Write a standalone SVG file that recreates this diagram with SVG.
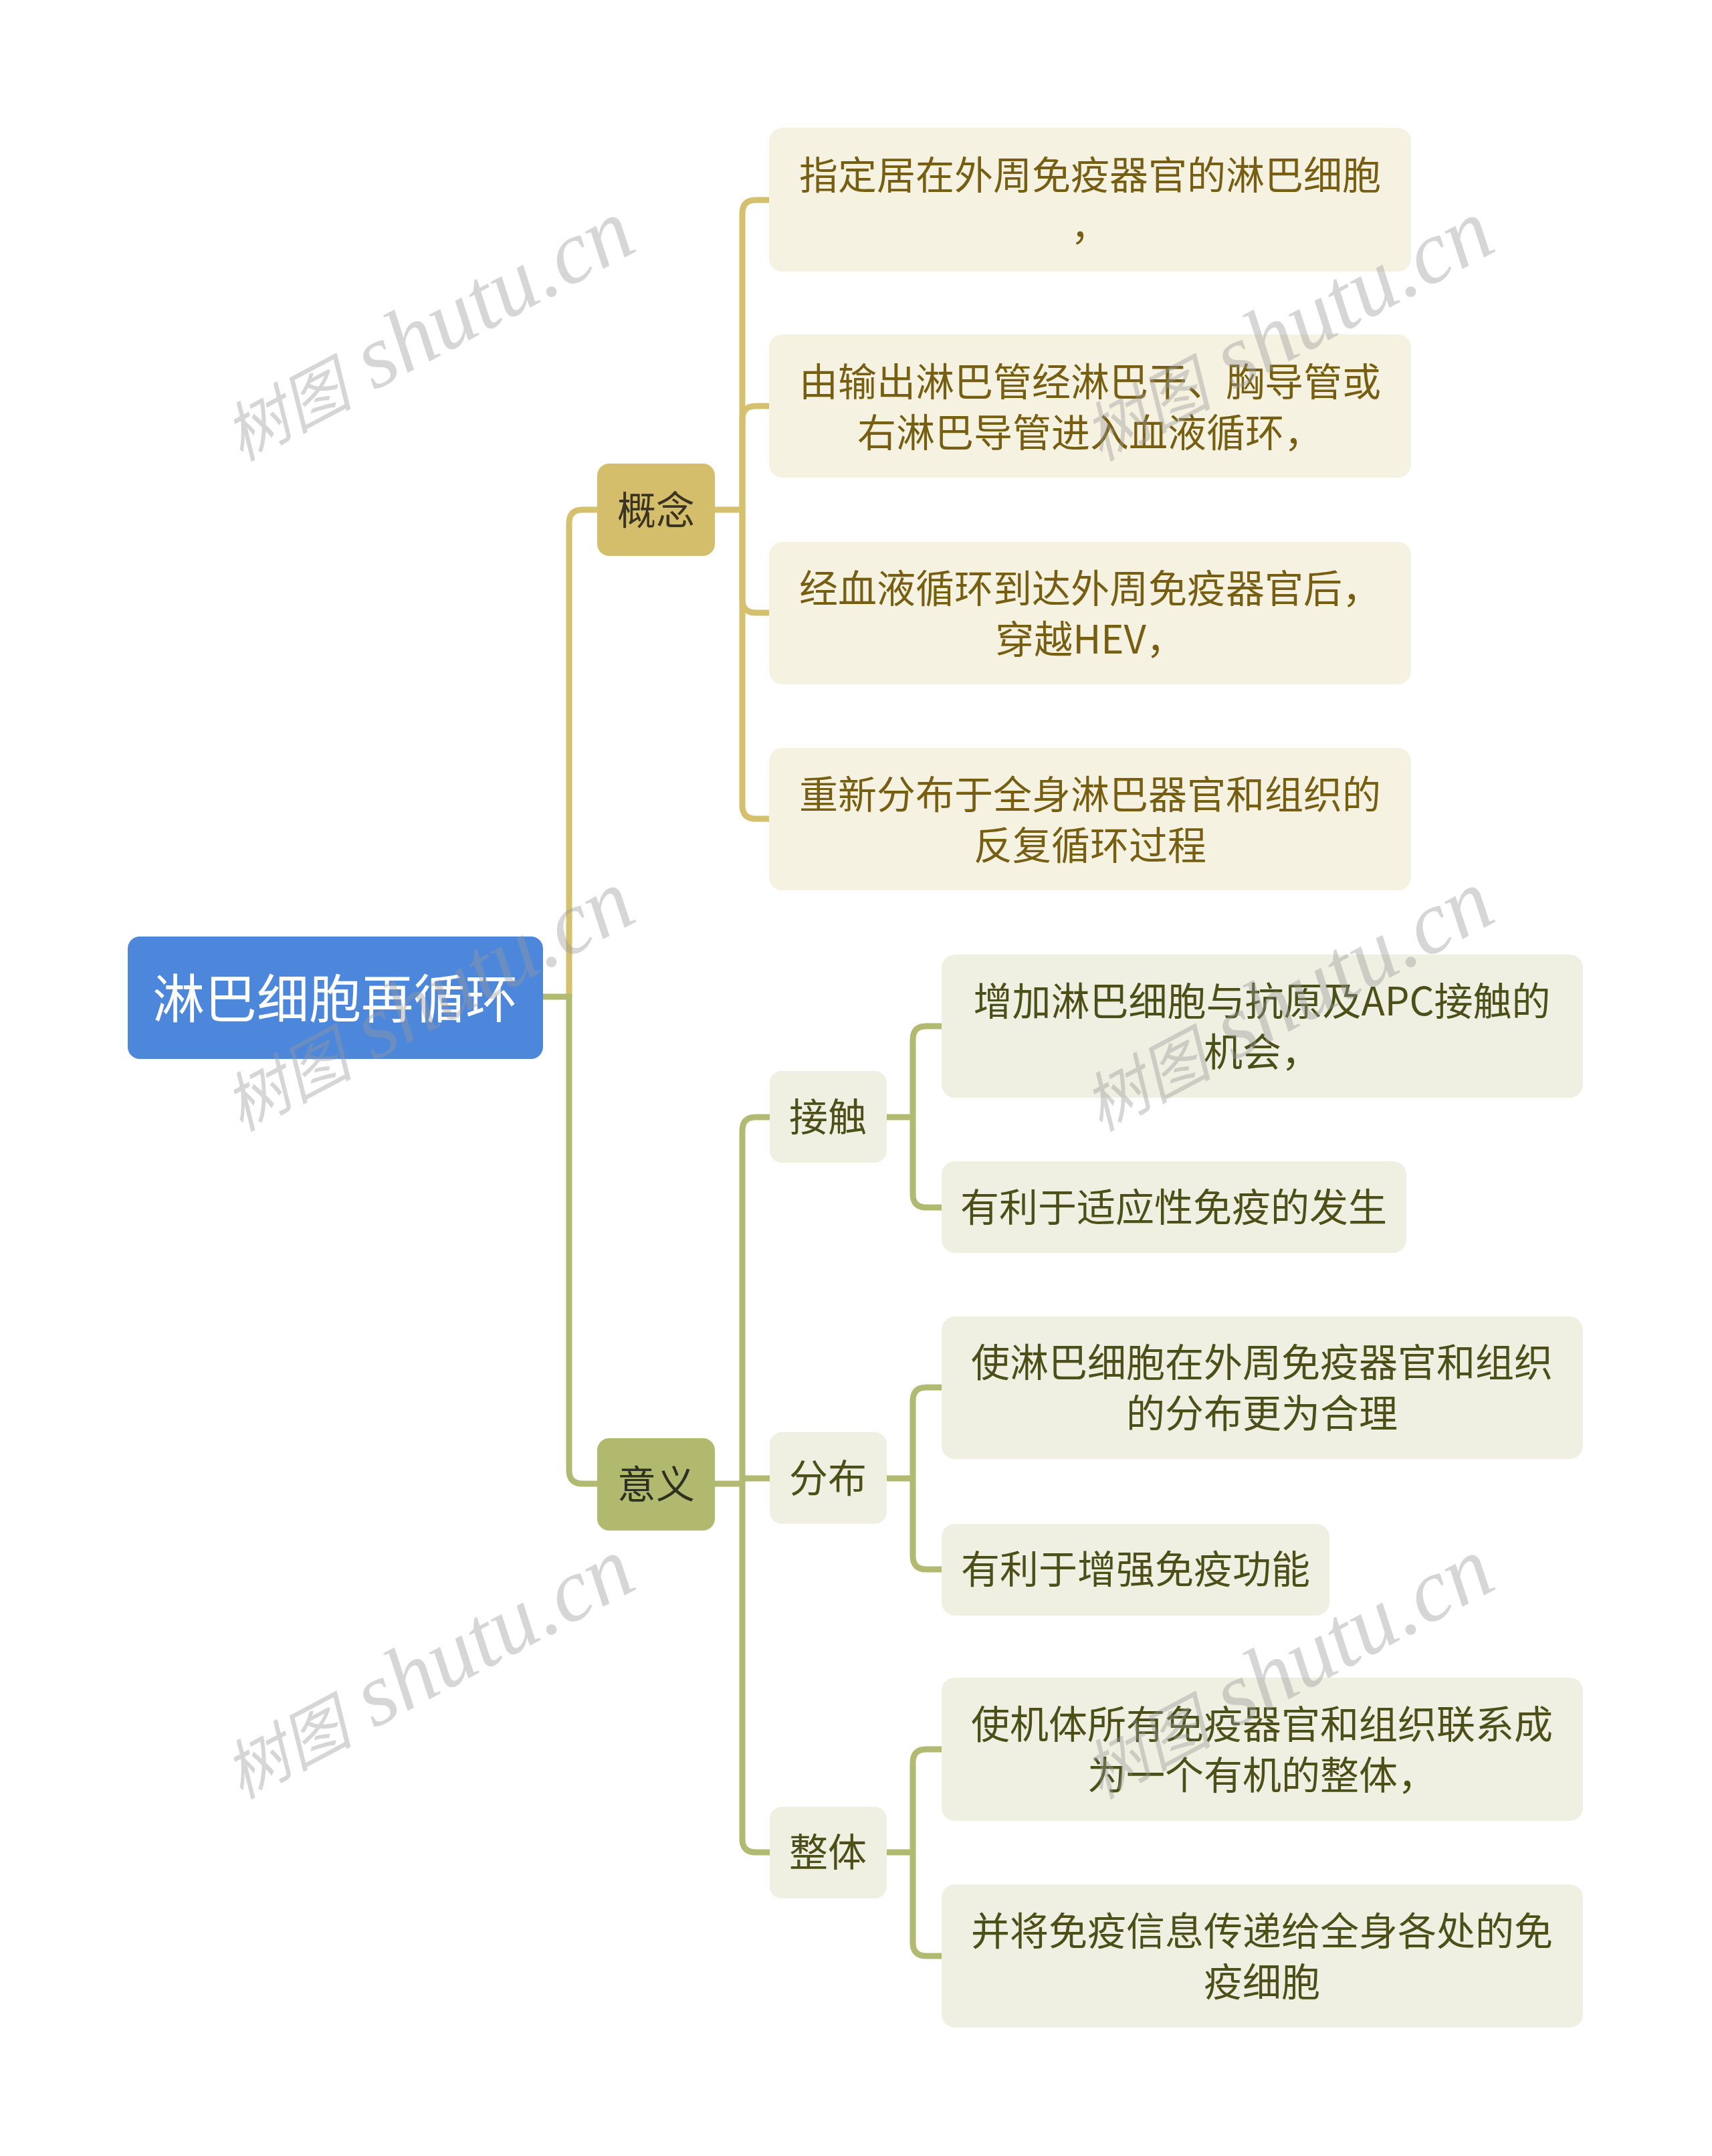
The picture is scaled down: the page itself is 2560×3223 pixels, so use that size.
<svg xmlns="http://www.w3.org/2000/svg" width="2560" height="3223" viewBox="0 0 2560 3223">
<style>
text{font-family:"Noto Sans CJK SC","Liberation Sans",sans-serif;text-anchor:middle;dominant-baseline:central}
.root{fill:#4C87DC}
.rootT{fill:#ffffff;font-size:78px}
.c1{fill:#D4BE6C}
.c1T{fill:#3A3420;font-size:58px}
.c2{fill:#B0B96E}
.c2T{fill:#2F3020;font-size:58px}
.g1{fill:#F5F2E1}
.g1T{fill:#765F12;font-size:58px}
.g2{fill:#EFEFE2}
.g2T{fill:#4C5018;font-size:58px}
.lg{fill:none;stroke:#D5C06E;stroke-width:9}
.lo{fill:none;stroke:#B2BA72;stroke-width:9}
.wm{font-family:"Liberation Serif","Noto Sans CJK SC",serif;font-style:italic;fill:#999999;fill-opacity:0.4;text-anchor:start;dominant-baseline:alphabetic}
</style>
<rect width="2560" height="3223" fill="#ffffff"/>
<g id="connectors">
<path class="lg" d="M851 1490 V782 Q851 762 871 762 H893"/>
<path class="lo" d="M812 1490 H851 V2198 Q851 2218 871 2218 H893"/>
<path class="lg" d="M1069 762 H1110"/>
<path class="lg" d="M1110 762 V319 Q1110 299 1130 299 H1150"/>
<path class="lg" d="M1110 762 V627 Q1110 607 1130 607 H1150"/>
<path class="lg" d="M1110 762 V896 Q1110 916 1130 916 H1150"/>
<path class="lg" d="M1110 762 V1204 Q1110 1224 1130 1224 H1150"/>
<path class="lo" d="M1069 2218 H1110"/>
<path class="lo" d="M1110 2218 V1690 Q1110 1670 1130 1670 H1151"/>
<path class="lo" d="M1110 2210 H1151"/>
<path class="lo" d="M1110 2218 V2749 Q1110 2769 1130 2769 H1151"/>
<path class="lo" d="M1326 1670 H1365"/>
<path class="lo" d="M1365 1670 V1554 Q1365 1534 1385 1534 H1408"/>
<path class="lo" d="M1365 1670 V1785 Q1365 1805 1385 1805 H1408"/>
<path class="lo" d="M1326 2210 H1365"/>
<path class="lo" d="M1365 2210 V2094 Q1365 2074 1385 2074 H1408"/>
<path class="lo" d="M1365 2210 V2326 Q1365 2346 1385 2346 H1408"/>
<path class="lo" d="M1326 2769 H1365"/>
<path class="lo" d="M1365 2769 V2635 Q1365 2615 1385 2615 H1408"/>
<path class="lo" d="M1365 2769 V2904 Q1365 2924 1385 2924 H1408"/>
</g>
<g id="root">
<rect class="root" x="191" y="1400" width="621" height="183" rx="18"/>
<text class="rootT" x="501" y="1488">淋巴细胞再循环</text>
</g>
<g id="n-gainian">
<rect class="c1" x="893" y="693" width="176" height="138" rx="18"/>
<text class="c1T" x="981" y="759">概念</text>
</g>
<g id="n-gainian-1">
<rect class="g1" x="1150" y="191" width="960" height="215" rx="20"/>
<text class="g1T" x="1630" y="258">指定居在外周免疫器官的淋巴细胞</text>
<text class="g1T" x="1630" y="334">，</text>
</g>
<g id="n-gainian-2">
<rect class="g1" x="1150" y="500" width="960" height="214" rx="20"/>
<text class="g1T" x="1630" y="567">由输出淋巴管经淋巴干、胸导管或</text>
<text class="g1T" x="1630" y="643">右淋巴导管进入血液循环，</text>
</g>
<g id="n-gainian-3">
<rect class="g1" x="1150" y="810" width="960" height="213" rx="20"/>
<text class="g1T" x="1630" y="876">经血液循环到达外周免疫器官后，</text>
<text class="g1T" x="1630" y="952">穿越HEV，</text>
</g>
<g id="n-gainian-4">
<rect class="g1" x="1150" y="1118" width="960" height="213" rx="20"/>
<text class="g1T" x="1630" y="1184">重新分布于全身淋巴器官和组织的</text>
<text class="g1T" x="1630" y="1260">反复循环过程</text>
</g>
<g id="n-yiyi">
<rect class="c2" x="893" y="2150" width="176" height="138" rx="18"/>
<text class="c2T" x="981" y="2215">意义</text>
</g>
<g id="n-jiechu">
<rect class="g2" x="1151" y="1601" width="175" height="137" rx="18"/>
<text class="g2T" x="1238" y="1666">接触</text>
</g>
<g id="n-jiechu-1">
<rect class="g2" x="1408" y="1427" width="959" height="214" rx="20"/>
<text class="g2T" x="1887" y="1493">增加淋巴细胞与抗原及APC接触的</text>
<text class="g2T" x="1887" y="1569">机会，</text>
</g>
<g id="n-jiechu-2">
<rect class="g2" x="1408" y="1736" width="695" height="137" rx="20"/>
<text class="g2T" x="1755" y="1801">有利于适应性免疫的发生</text>
</g>
<g id="n-fenbu">
<rect class="g2" x="1151" y="2141" width="175" height="137" rx="18"/>
<text class="g2T" x="1238" y="2206">分布</text>
</g>
<g id="n-fenbu-1">
<rect class="g2" x="1408" y="1968" width="959" height="213" rx="20"/>
<text class="g2T" x="1887" y="2033">使淋巴细胞在外周免疫器官和组织</text>
<text class="g2T" x="1887" y="2109">的分布更为合理</text>
</g>
<g id="n-fenbu-2">
<rect class="g2" x="1408" y="2278" width="580" height="137" rx="20"/>
<text class="g2T" x="1698" y="2342">有利于增强免疫功能</text>
</g>
<g id="n-zhengti">
<rect class="g2" x="1151" y="2701" width="175" height="137" rx="18"/>
<text class="g2T" x="1238" y="2765">整体</text>
</g>
<g id="n-zhengti-1">
<rect class="g2" x="1408" y="2508" width="959" height="214" rx="20"/>
<text class="g2T" x="1887" y="2574">使机体所有免疫器官和组织联系成</text>
<text class="g2T" x="1887" y="2650">为一个有机的整体，</text>
</g>
<g id="n-zhengti-2">
<rect class="g2" x="1408" y="2817" width="959" height="214" rx="20"/>
<text class="g2T" x="1887" y="2883">并将免疫信息传递给全身各处的免</text>
<text class="g2T" x="1887" y="2959">疫细胞</text>
</g>
<g id="watermarks">
<text class="wm" transform="translate(360,690) rotate(-28)"><tspan font-size="96">树图</tspan><tspan font-size="134"> shutu.cn</tspan></text>
<text class="wm" transform="translate(1645,690) rotate(-28)"><tspan font-size="96">树图</tspan><tspan font-size="134"> shutu.cn</tspan></text>
<text class="wm" transform="translate(360,1692) rotate(-28)"><tspan font-size="96">树图</tspan><tspan font-size="134"> shutu.cn</tspan></text>
<text class="wm" transform="translate(1645,1692) rotate(-28)"><tspan font-size="96">树图</tspan><tspan font-size="134"> shutu.cn</tspan></text>
<text class="wm" transform="translate(360,2690) rotate(-28)"><tspan font-size="96">树图</tspan><tspan font-size="134"> shutu.cn</tspan></text>
<text class="wm" transform="translate(1645,2690) rotate(-28)"><tspan font-size="96">树图</tspan><tspan font-size="134"> shutu.cn</tspan></text>
</g>
</svg>
